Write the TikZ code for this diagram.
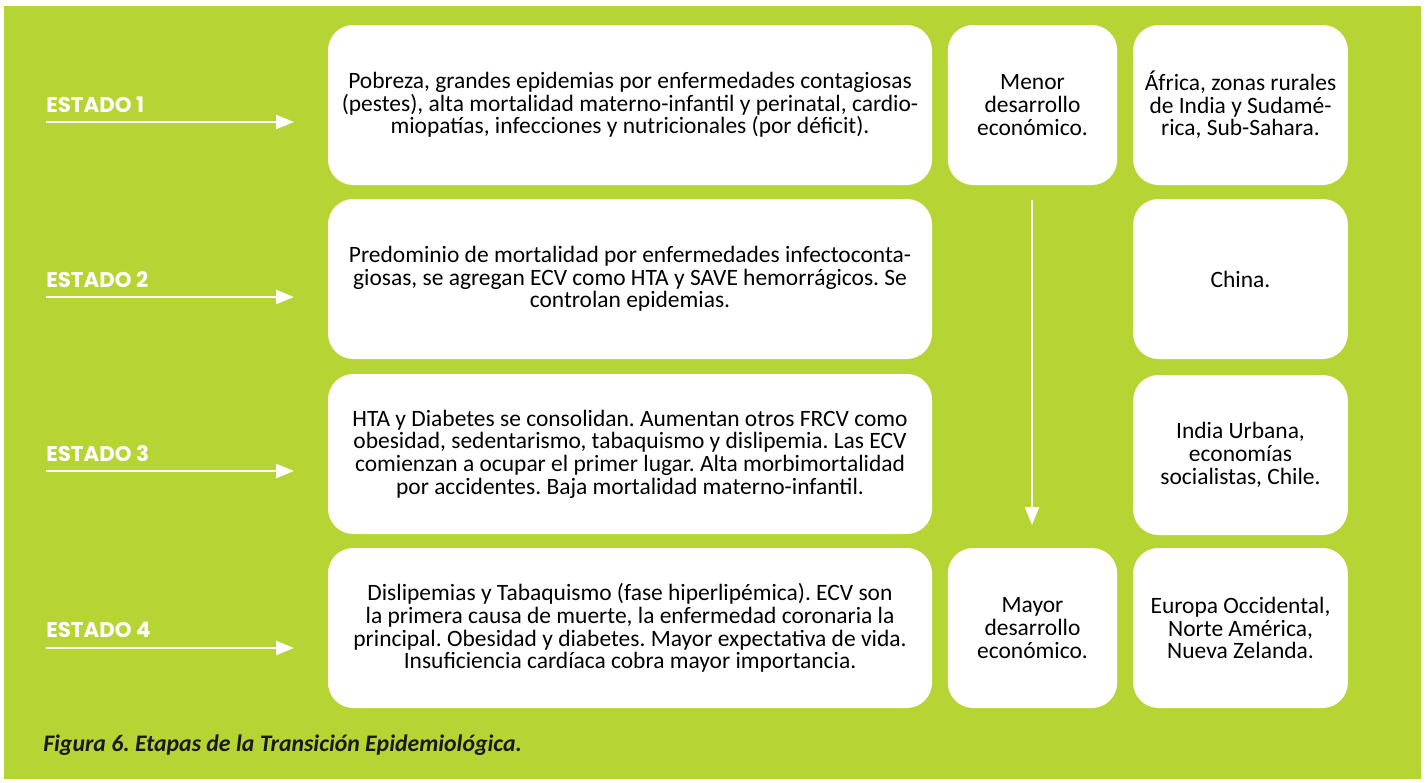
\documentclass[tikz,border=0pt]{standalone}
\usepackage{fontspec}
\setmainfont{Carlito}
\newfontfamily\estfont{Poppins}
\usetikzlibrary{arrows.meta}
\definecolor{bggreen}{RGB}{182,212,52}
\frenchspacing
\tikzset{
  wbox/.style={fill=white, draw=none, rounded corners=19pt, align=center, inner sep=0pt,
    font=\fontsize{17.6pt}{17pt}\selectfont},
  estlabel/.style={anchor=west, text=white, inner sep=0pt, font=\estfont\bfseries\fontsize{16pt}{18pt}\selectfont},
  rowarrow/.style={draw=white, line width=1.9pt, -{Triangle[length=13.5pt,width=10.5pt]}},
  downarrow/.style={draw=white, line width=2.2pt, -{Triangle[length=13.5pt,width=10.5pt]}},
}
\begin{document}
\begin{tikzpicture}[x=0.75pt,y=-0.75pt]
\useasboundingbox (0,0) rectangle (1427,782);
\fill[bggreen] (4,6) rectangle (1421,779);

% main column
\node[wbox, minimum width=453pt, minimum height=120pt] (t1) at (630,105)
 {Pobreza, grandes epidemias por enfermedades contagiosas\\(pestes), alta mortalidad materno-infantil y perinatal, cardio-\\miopatías, infecciones y nutricionales (por déficit).};
\node[wbox, minimum width=453pt, minimum height=120pt] (t2) at (630,279)
 {Predominio de mortalidad por enfermedades infectoconta-\\giosas, se agregan ECV como HTA y SAVE hemorrágicos. Se\\controlan epidemias.};
\node[wbox, minimum width=453pt, minimum height=120pt] (t3) at (630,454)
 {HTA y Diabetes se consolidan. Aumentan otros FRCV como\\obesidad, sedentarismo, tabaquismo y dislipemia. Las ECV\\comienzan a ocupar el primer lugar. Alta morbimortalidad\\por accidentes. Baja mortalidad materno-infantil.};
\node[wbox, minimum width=453pt, minimum height=120pt] (t4) at (630,628)
 {Dislipemias y Tabaquismo (fase hiperlipémica). ECV son\\la primera causa de muerte, la enfermedad coronaria la\\principal. Obesidad y diabetes. Mayor expectativa de vida.\\Insuficiencia cardíaca cobra mayor importancia.};

% development column
\node[wbox, minimum width=127pt, minimum height=120pt] (d1) at (1032.5,105)
 {Menor\\desarrollo\\económico.};
\node[wbox, minimum width=127pt, minimum height=120pt] (d4) at (1032.5,628)
 {Mayor\\desarrollo\\económico.};

% region column
\node[wbox, minimum width=161pt, minimum height=120pt] (r1) at (1240.5,105)
 {África, zonas rurales\\de India y Sudamé-\\rica, Sub-Sahara.};
\node[wbox, minimum width=161pt, minimum height=120pt] (r2) at (1240.5,279)
 {China.};
\node[wbox, minimum width=161pt, minimum height=120pt] (r3) at (1240.5,455)
 {India Urbana,\\economías\\socialistas, Chile.};
\node[wbox, minimum width=161pt, minimum height=120pt] (r4) at (1240.5,628)
 {Europa Occidental,\\Norte América,\\Nueva Zelanda.};

% estado labels and arrows
\node[estlabel] (e1) at (46,105) {ESTADO 1};
\node[estlabel] (e2) at (46,280) {ESTADO 2};
\node[estlabel] (e3) at (46,454) {ESTADO 3};
\node[estlabel] (e4) at (46,630) {ESTADO 4};
\coordinate (a1s) at (46,122);  \coordinate (a1e) at (294,122);
\coordinate (a2s) at (46,297);  \coordinate (a2e) at (294,297);
\coordinate (a3s) at (46,471);  \coordinate (a3e) at (294,471);
\coordinate (a4s) at (46,648);  \coordinate (a4e) at (294,648);
\draw[rowarrow] (a1s) -- (a1e);
\draw[rowarrow] (a2s) -- (a2e);
\draw[rowarrow] (a3s) -- (a3e);
\draw[rowarrow] (a4s) -- (a4e);

% down arrow
\coordinate (ds) at (1032,200);
\coordinate (de) at (1032,525);
\draw[downarrow] (ds) -- (de);

% caption
\node[anchor=west, inner sep=0pt, font=\fontsize{17.8pt}{20pt}\selectfont\bfseries\itshape, text=black!90] (cap) at (43,745)
 {Figura 6. Etapas de la Transición Epidemiológica.};
\end{tikzpicture}
\end{document}
